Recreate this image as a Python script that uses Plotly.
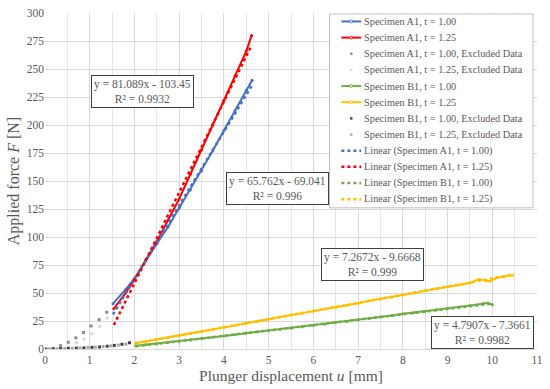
import plotly.graph_objects as go
import numpy as np

# ---------------- data ----------------
a1_100_u = [1.52, 1.8, 2.0, 2.25, 2.5, 2.75, 3.0, 3.25, 3.5, 3.75, 4.0, 4.25, 4.5, 4.63]
a1_100_F = [40.5, 53, 63, 79, 94, 109, 126, 142, 159, 177, 195, 213, 231, 240]

a1_125_u = [1.54, 1.8, 2.0, 2.25, 2.5, 2.75, 3.0, 3.25, 3.5, 3.75, 4.0, 4.25, 4.5, 4.62]
a1_125_F = [36, 50, 62, 79, 96, 115, 134, 156, 178, 200, 222, 244, 266, 280]

a1_100_ex_u = [0.03, 0.19, 0.35, 0.52, 0.69, 0.86, 1.03, 1.21, 1.38]
a1_100_ex_F = [0, 0.5, 3, 6, 10, 14.7, 20.6, 26.2, 32.8]

a1_125_ex_u = [0.18, 0.35, 0.52, 0.70, 0.87, 1.05, 1.22, 1.39]
a1_125_ex_F = [0, 0.5, 2, 5.8, 8.9, 13.6, 20, 27.7]

b1_100_u = [2.03, 2.25, 2.5, 2.75, 3.0, 3.25, 3.5, 3.75, 4.0, 4.25, 4.5, 4.75, 5.0, 5.25, 5.5, 5.75,
            6.0, 6.25, 6.5, 6.75, 7.0, 7.25, 7.5, 7.75, 8.0, 8.25, 8.5, 8.75, 9.0, 9.25, 9.5,
            9.65, 9.8, 9.9, 10.0]
b1_100_F = [2.9, 3.8, 4.7, 5.9, 7.0, 8.0, 9.3, 10.4, 11.6, 12.8, 14.2, 15.3, 16.5, 17.5, 18.6, 19.9,
            21.0, 22.1, 23.6, 24.6, 25.8, 27.3, 28.6, 29.9, 31.4, 32.4, 33.8, 35.0, 36.4, 37.5, 38.8,
            39.6, 40.6, 41.0, 39.6]

b1_125_u = [2.03, 2.25, 2.5, 2.75, 3.0, 3.25, 3.5, 3.75, 4.0, 4.25, 4.5, 4.75, 5.0, 5.25, 5.5, 5.75,
            6.0, 6.25, 6.5, 6.75, 7.0, 7.25, 7.5, 7.75, 8.0, 8.25, 8.5, 8.75, 9.0, 9.25, 9.5,
            9.7, 9.85, 9.95, 10.1, 10.25, 10.45]
b1_125_F = [5.3, 6.8, 8.3, 10.1, 11.8, 13.8, 15.6, 17.5, 19.3, 21.0, 23.0, 24.6, 26.6, 28.6, 30.3, 31.8,
            33.7, 35.6, 37.3, 38.9, 40.9, 43.0, 44.6, 46.2, 48.3, 49.9, 51.9, 53.9, 55.6, 57.1, 59.0,
            62.2, 61.0, 60.6, 63.6, 64.8, 65.9]

b1_100_ex_u = [0.0, 0.18, 0.35, 0.52, 0.70, 0.87, 1.05, 1.22, 1.39, 1.55, 1.72, 1.89]
b1_100_ex_F = [0, 0, 0.3, 0.5, 0.8, 1.0, 1.5, 1.8, 2.5, 3.2, 4.2, 5.6]

b1_125_ex_u = [0.1, 0.27, 0.44, 0.61, 0.78, 0.96, 1.13, 1.30, 1.47, 1.64, 1.81]
b1_125_ex_F = [0, 0.2, 0.4, 0.6, 0.9, 1.3, 1.7, 2.2, 2.8, 3.5, 4.4]

# linear fits (coefficients as printed in the chart)
fit_names = ["Specimen A1, t = 1.00", "Specimen A1, t = 1.25", "Specimen B1, t = 1.00", "Specimen B1, t = 1.25"]
fit_slope = [65.762, 81.089, 4.7907, 7.2672]
fit_icpt = [-69.041, -103.45, -7.3661, -9.6668]
fit_r2 = ["0.996", "0.9932", "0.9982", "0.999"]
fit_label_u = [5.19, 2.18, 9.79, 7.33]
fit_label_F = [143, 230, 15, 75.5]

x_ticks = list(range(0, 12))
y_ticks = list(range(0, 301, 25))

# ---------------- styling ----------------
BLUE = "#4472C4"
RED = "#FF0000"
GREEN = "#70AD47"
YELLOW = "#FFC000"
GREY_A100 = "#8c8c8c"
GREY_A125 = "#d9d9d9"
GREY_B100 = "#404040"
GREY_B125 = "#a6a6a6"
TXT = "#595959"
FONT = "Liberation Serif, Times New Roman, serif"

W, H = 550, 389
ML, MR, MT, MB = 45, 7, 11, 40
PW, PH = W - ML - MR, H - MT - MB


def px(xp):  # page x pixel -> paper
    return (xp - ML) / PW


def py(yp):  # page y pixel -> paper
    return (H - MB - yp) / PH


fig = go.Figure()


def series(u, F, name, color):
    fig.add_trace(go.Scatter(x=u, y=F, name=name, mode="lines+markers",
                             line=dict(color=color, width=2),
                             marker=dict(color=color, size=3, symbol="circle")))


def excluded(u, F, name, color):
    fig.add_trace(go.Scatter(x=u, y=F, name=name, mode="markers",
                             marker=dict(color=color, size=3, symbol="square")))


series(a1_100_u, a1_100_F, "Specimen A1, t = 1.00", BLUE)
series(a1_125_u, a1_125_F, "Specimen A1, t = 1.25", RED)
excluded(a1_100_ex_u, a1_100_ex_F, "Specimen A1, t = 1.00, Excluded Data", GREY_A100)
excluded(a1_125_ex_u, a1_125_ex_F, "Specimen A1, t = 1.25, Excluded Data", GREY_A125)
series(b1_100_u, b1_100_F, "Specimen B1, t = 1.00", GREEN)
series(b1_125_u, b1_125_F, "Specimen B1, t = 1.25", YELLOW)
excluded(b1_100_ex_u, b1_100_ex_F, "Specimen B1, t = 1.00, Excluded Data", GREY_B100)
excluded(b1_125_ex_u, b1_125_ex_F, "Specimen B1, t = 1.25, Excluded Data", GREY_B125)

fit_u = [a1_100_u, a1_125_u, b1_100_u, b1_125_u]
fit_colors = [BLUE, RED, GREEN, YELLOW]
for i in range(4):
    uu = np.array([min(fit_u[i]), max(fit_u[i])])
    fig.add_trace(go.Scatter(x=uu, y=fit_slope[i] * uu + fit_icpt[i],
                             name=f"Linear ({fit_names[i]})", mode="lines",
                             line=dict(color=fit_colors[i], width=2.5, dash="dot")))
    fig.add_annotation(x=fit_label_u[i], y=fit_label_F[i], xref="x", yref="y",
                       text=f"y = {fit_slope[i]}x - {abs(fit_icpt[i])}<br>R² = {fit_r2[i]}",
                       showarrow=False, bgcolor="white", bordercolor="#404040", borderwidth=1,
                       borderpad=2, font=dict(family=FONT, size=11.5, color=TXT))

# ---------------- legend (compact, drawn to match the Excel legend rows) ----------------
legend_items = [
    ("Specimen A1, t = 1.00", "line", BLUE),
    ("Specimen A1, t = 1.25", "line", RED),
    ("Specimen A1, t = 1.00, Excluded Data", "marker", GREY_A100),
    ("Specimen A1, t = 1.25, Excluded Data", "marker", GREY_A125),
    ("Specimen B1, t = 1.00", "line", GREEN),
    ("Specimen B1, t = 1.25", "line", YELLOW),
    ("Specimen B1, t = 1.00, Excluded Data", "marker", GREY_B100),
    ("Specimen B1, t = 1.25, Excluded Data", "marker", GREY_B125),
    ("Linear (Specimen A1, t = 1.00)", "dot", BLUE),
    ("Linear (Specimen A1, t = 1.25)", "dot", RED),
    ("Linear (Specimen B1, t = 1.00)", "dot", GREEN),
    ("Linear (Specimen B1, t = 1.25)", "dot", YELLOW),
]

shapes = [dict(type="rect", xref="paper", yref="paper", x0=px(333), x1=px(539), y0=py(207), y1=py(12),
               line=dict(color="#bfbfbf", width=1), fillcolor="white", layer="above")]
for k, (name, kind, col) in enumerate(legend_items):
    yc = 19.5 + 16.25 * k
    if kind in ("line", "dot"):
        shapes.append(dict(type="line", xref="paper", yref="paper", x0=px(345), x1=px(365),
                           y0=py(yc), y1=py(yc), layer="above",
                           line=dict(color=col, width=2 if kind == "line" else 2.5,
                                     dash="solid" if kind == "line" else "dot")))
        if kind == "line":
            shapes.append(dict(type="circle", xref="paper", yref="paper", x0=px(353.5), x1=px(356.5),
                               y0=py(yc + 1.5), y1=py(yc - 1.5), layer="above",
                               line=dict(color=col, width=0.8), fillcolor="#e8e8e8"))
    else:
        shapes.append(dict(type="rect", xref="paper", yref="paper", x0=px(353.8), x1=px(356.2),
                           y0=py(yc + 1.2), y1=py(yc - 1.2), layer="above",
                           line=dict(width=0), fillcolor=col))
    fig.add_annotation(x=px(366), y=py(yc), xref="paper", yref="paper", text=name,
                       showarrow=False, xanchor="left", yanchor="middle",
                       font=dict(family=FONT, size=10.3, color=TXT))

fig.update_layout(
    width=W, height=H,
    margin=dict(l=ML, r=MR, t=MT, b=MB),
    paper_bgcolor="white", plot_bgcolor="white",
    font=dict(family=FONT, color=TXT),
    showlegend=False,
    shapes=shapes,
    xaxis=dict(range=[0, 11], tickvals=x_ticks, ticktext=[str(v) for v in x_ticks],
               showgrid=True, gridcolor="#d9d9d9", gridwidth=1,
               minor=dict(dtick=0.5, showgrid=True, gridcolor="#e6e6e6"),
               zeroline=False, showline=True, linecolor="#d9d9d9", ticks="",
               ticklabeloverflow="allow",
               tickfont=dict(family=FONT, size=11.5, color=TXT),
               title=dict(text="Plunger displacement <i>u</i> [mm]", standoff=5,
                          font=dict(family=FONT, size=15.5, color=TXT))),
    yaxis=dict(range=[0, 300], tickvals=y_ticks, ticktext=[str(v) for v in y_ticks],
               showgrid=True, gridcolor="#d9d9d9", gridwidth=1,
               zeroline=False, showline=False, ticks="",
               ticklabeloverflow="allow",
               tickfont=dict(family=FONT, size=11.5, color=TXT),
               title=dict(text="Applied force <i>F</i> [N]", standoff=3,
                          font=dict(family=FONT, size=16, color=TXT))),
)

fig.write_html("out.html", config={"displayModeBar": False},
               post_script="document.body.style.margin='0px';")
